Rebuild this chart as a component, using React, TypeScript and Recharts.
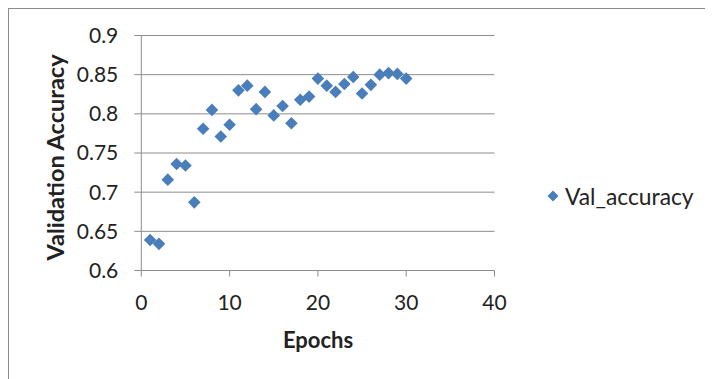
import { ScatterChart, Scatter, XAxis, YAxis, CartesianGrid, Legend, Label } from 'recharts';

const epochs = [1, 2, 3, 4, 5, 6, 7, 8, 9, 10, 11, 12, 13, 14, 15, 16, 17, 18, 19, 20, 21, 22, 23, 24, 25, 26, 27, 28, 29, 30];
const valAccuracy = [
    0.639, 0.634, 0.716, 0.736, 0.734, 0.687, 0.781, 0.805, 0.771, 0.786,
    0.830, 0.836, 0.806, 0.828, 0.798, 0.810, 0.788, 0.818, 0.822, 0.845,
    0.836, 0.828, 0.838, 0.847, 0.826, 0.837, 0.850, 0.852, 0.851, 0.845,
];
const xTicks = [0, 10, 20, 30, 40];
const yTicks = [0.6, 0.65, 0.7, 0.75, 0.8, 0.85, 0.9];
const seriesName = 'Val_accuracy';

const BLUE = '#4a7ebb';
const GRID = '#8c8c8c';
const FONT = 'Lato, "Open Sans", sans-serif';

const data = epochs.map((e, i) => ({ epoch: e, acc: valAccuracy[i] }));

// Excel-style square diamond marker
function Diamond(props: any) {
    const { cx, cy } = props;
    if (cx == null || cy == null) return null;
    const r = 6.3;
    return <polygon points={`${cx},${cy - r} ${cx + r},${cy} ${cx},${cy + r} ${cx - r},${cy}`} fill={BLUE} />;
}

function LegendBox() {
    return (
        <svg width={175} height={30}>
            <polygon points="6,9.5 11.5,15 6,20.5 0.5,15" fill={BLUE} />
            <text x={18} y={15} dominantBaseline="central" fontFamily={FONT} fontSize={22.8} fill="#222">
                {seriesName}
            </text>
        </svg>
    );
}

export default function App() {
    return (
        <div style={{ width: 704, height: 370, borderLeft: `1px solid ${GRID}`, borderTop: `1px solid ${GRID}`, background: '#fff' }}>
            <ScatterChart width={704} height={370} margin={{ top: 26.5, right: 218.5, bottom: 78.5, left: 72.3 }}>
                <CartesianGrid horizontal={true} vertical={false} stroke={GRID} strokeWidth={1} />
                <XAxis
                    type="number"
                    dataKey="epoch"
                    domain={[0, 40]}
                    ticks={xTicks}
                    height={30}
                    tickSize={6}
                    tickMargin={18.5}
                    stroke={GRID}
                    tick={{ fill: '#222', fontFamily: FONT, fontSize: 21 }}
                >
                    <Label
                        content={() => (
                            <text x={309} y={339} textAnchor="middle" fontFamily={FONT} fontSize={22} fontWeight="bold" fill="#222">
                                Epochs
                            </text>
                        )}
                    />
                </XAxis>
                <YAxis
                    type="number"
                    dataKey="acc"
                    domain={[0.6, 0.9]}
                    ticks={yTicks}
                    width={60}
                    tickSize={7}
                    tickMargin={16}
                    stroke={GRID}
                    tick={{ fill: '#222', fontFamily: FONT, fontSize: 21 }}
                >
                    <Label
                        content={() => (
                            <text
                                x={46}
                                y={148.5}
                                transform="rotate(-90 46 148.5)"
                                textAnchor="middle"
                                dominantBaseline="central"
                                fontFamily={FONT}
                                fontSize={23.5}
                                fontWeight="bold"
                                fill="#222"
                            >
                                Validation Accuracy
                            </text>
                        )}
                    />
                </YAxis>
                <Legend
                    layout="horizontal"
                    align="center"
                    verticalAlign="middle"
                    wrapperStyle={{ left: 538, top: 172, width: 175, height: 30 }}
                    content={() => <LegendBox />}
                />
                <Scatter name={seriesName} data={data} shape={<Diamond />} isAnimationActive={false} />
            </ScatterChart>
        </div>
    );
}
